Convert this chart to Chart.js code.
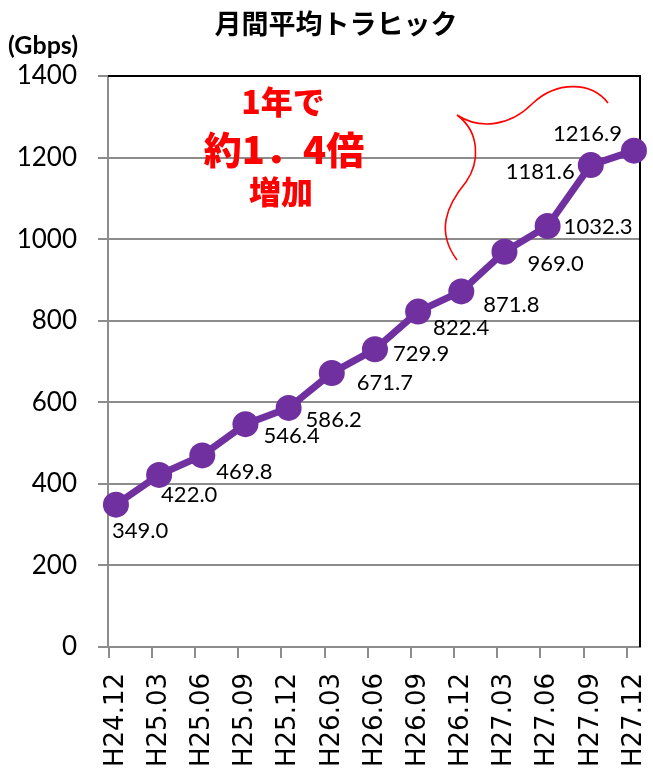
<!DOCTYPE html>
<html>
<head>
<meta charset="utf-8">
<script src="https://cdn.jsdelivr.net/npm/chart.js@4/dist/chart.umd.min.js"></script>
<style>
html,body{margin:0;padding:0;background:#fff;}
canvas{display:block;}
</style>
</head>
<body>
<canvas id="c" width="653" height="778"></canvas>
<script>
const categories = ['H24.12','H25.03','H25.06','H25.09','H25.12','H26.03','H26.06','H26.09','H26.12','H27.03','H27.06','H27.09','H27.12'];
const traffic = [349.0, 422.0, 469.8, 546.4, 586.2, 671.7, 729.9, 822.4, 871.8, 969.0, 1032.3, 1181.6, 1216.9];
const yTicks = [0, 200, 400, 600, 800, 1000, 1200, 1400];
const titleText = '月間平均トラヒック';
const unitText = '(Gbps)';
const noteLines = ['1年で', '約1．4倍', '増加'];

const PURPLE = '#7030A0';
const RED = '#FF0000';

// label placement per point: [dx, dy, align]
const labelPlacement = [
  [-4, 26, 'left'], [2, 20, 'left'], [14, 17, 'left'], [18, 12, 'left'],
  [17, 12, 'left'], [25, 10, 'left'], [18, 5, 'left'], [15, 16, 'left'],
  [22, 13, 'left'], [23, 12, 'left'], [16, 1, 'left'], [-16, 7, 'right'],
  [-12, -17, 'right']
];

const deco = {
  id: 'deco',
  beforeDatasetsDraw(chart) {
    const ctx = chart.ctx, a = chart.chartArea, xs = chart.scales.x;
    ctx.save();
    ctx.strokeStyle = '#8c8c8c';
    ctx.lineWidth = 2;
    categories.forEach((_, i) => {
      const px = Math.round(xs.getPixelForValue(i - 0.165));
      ctx.beginPath();
      ctx.moveTo(px, a.bottom);
      ctx.lineTo(px, a.bottom + 11);
      ctx.stroke();
    });
    ctx.strokeStyle = '#000';
    ctx.lineWidth = 2;
    ctx.beginPath();
    ctx.moveTo(a.left, a.top);
    ctx.lineTo(a.right, a.top);
    ctx.lineTo(a.right, a.bottom);
    ctx.stroke();
    ctx.restore();
  },
  afterDraw(chart) {
    const ctx = chart.ctx;
    ctx.save();
    ctx.fillStyle = '#000';
    ctx.textAlign = 'center';
    ctx.textBaseline = 'middle';
    ctx.font = 'bold 27px "Noto Sans CJK JP"';
    ctx.fillText(titleText, 336, 24);
    ctx.textAlign = 'left';
    ctx.font = 'bold 25px Lato';
    ctx.fillText(unitText, 8, 46);
    ctx.fillStyle = RED;
    ctx.textAlign = 'center';
    ctx.font = '900 32px "Noto Sans CJK JP"';
    ctx.fillText(noteLines[0], 283, 102);
    ctx.font = '900 38px "Noto Sans CJK JP"';
    ctx.fillText(noteLines[1], 284, 150);
    ctx.font = '900 32px "Noto Sans CJK JP"';
    ctx.fillText(noteLines[2], 281, 192);
    ctx.strokeStyle = RED;
    ctx.lineWidth = 1.6;
    ctx.beginPath();
    ctx.moveTo(608, 103);
    ctx.bezierCurveTo(592, 82, 557, 80, 532, 104);
    ctx.bezierCurveTo(510, 126, 480, 130, 457, 115);
    ctx.moveTo(457, 115);
    ctx.bezierCurveTo(480, 132, 480, 162, 466, 182);
    ctx.bezierCurveTo(446, 206, 436, 232, 457, 260);
    ctx.stroke();
    const meta = chart.getDatasetMeta(0);
    ctx.fillStyle = '#000';
    ctx.font = '22px Lato';
    ctx.textBaseline = 'middle';
    meta.data.forEach((pt, i) => {
      const p = labelPlacement[i];
      ctx.textAlign = p[2];
      ctx.fillText(traffic[i].toFixed(1), pt.x + p[0], pt.y + p[1]);
    });
    ctx.restore();
  }
};

new Chart(document.getElementById('c'), {
  type: 'line',
  data: {
    datasets: [{
      data: traffic.map((v, i) => ({ x: i, y: v })),
      borderColor: PURPLE,
      backgroundColor: PURPLE,
      borderWidth: 7,
      pointRadius: 13,
      pointHoverRadius: 13,
      pointBackgroundColor: PURPLE,
      pointBorderWidth: 0,
      tension: 0,
      clip: false
    }]
  },
  options: {
    responsive: false,
    animation: false,
    events: [],
    layout: { padding: { left: 0, right: 8, top: 76, bottom: 0 } },
    plugins: { legend: { display: false }, tooltip: { enabled: false }, title: { display: false } },
    scales: {
      x: {
        type: 'linear',
        min: -0.184,
        max: 12.14,
        afterBuildTicks: s => { s.ticks = categories.map((_, i) => ({ value: i })); },
        afterFit: s => { s.height = 131; s.paddingLeft = 0; s.paddingRight = 0; },
        grid: { display: false, drawTicks: false },
        border: { display: true, color: '#8c8c8c', width: 2 },
        ticks: {
          autoSkip: false,
          minRotation: 90,
          maxRotation: 90,
          padding: 26,
          color: '#000',
          font: { family: '"DejaVu Sans"', size: 26 },
          callback: v => categories[v]
        }
      },
      y: {
        min: 0,
        max: 1400,
        afterBuildTicks: s => { s.ticks = yTicks.map(v => ({ value: v })); },
        afterFit: s => { s.width = 108; s.paddingTop = 0; s.paddingBottom = 0; },
        grid: { color: '#8c8c8c', lineWidth: 2, tickLength: 10 },
        border: { display: true, color: '#8c8c8c', width: 2 },
        ticks: {
          padding: 21,
          color: '#000',
          font: { family: 'Lato', size: 26 },
          callback: v => String(v)
        }
      }
    }
  },
  plugins: [deco]
});
</script>
</body>
</html>
